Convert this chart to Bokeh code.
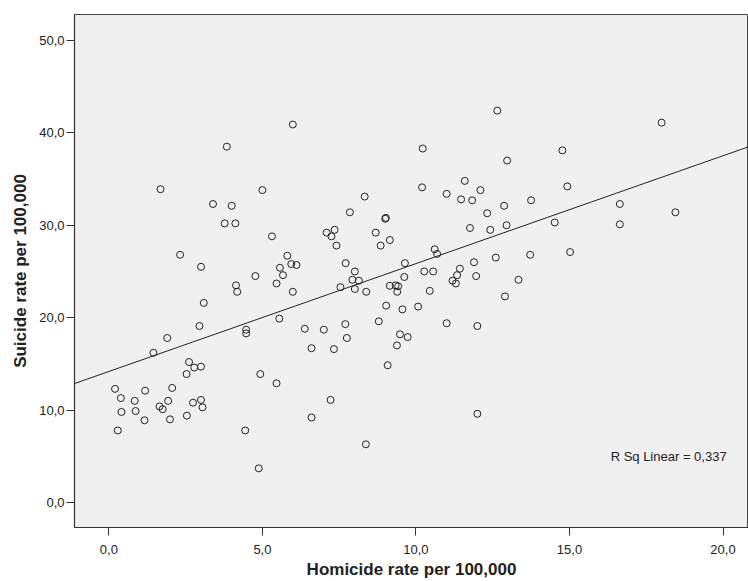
from bokeh.plotting import figure
from bokeh.models import Range1d, FixedTicker, Label
from bokeh.embed import file_html
from bokeh.resources import INLINE

# Data
homicide = [1.68, 3.84, 5.0, 5.99, 3.39, 4.0, 3.77, 4.12, 5.31, 2.32,
            3.0, 5.81, 5.57, 5.94, 6.11, 5.67, 4.77, 5.46, 4.14, 4.18,
            5.99, 3.09, 5.55, 2.95, 4.47, 4.47, 6.38, 1.90, 1.45, 6.6,
            2.61, 2.78, 3.0, 2.53, 0.20, 0.39, 1.18, 2.06, 0.84, 0.41,
            0.87, 1.65, 1.75, 1.93, 1.16, 1.99, 2.54, 2.74, 3.0, 3.05,
            0.29, 4.93, 5.46, 4.44, 4.88, 6.6, 12.65, 10.22, 12.97, 10.2,
            11.59, 12.1, 11.0, 11.47, 11.83, 12.87, 13.75, 12.32, 12.95, 12.42,
            11.76, 8.33, 7.85, 9.0, 9.02, 7.09, 7.35, 7.25, 7.41, 8.69,
            9.15, 8.85, 10.61, 10.69, 7.71, 8.01, 7.93, 8.14, 8.01, 7.54,
            8.38, 9.64, 9.62, 9.15, 9.34, 9.42, 9.39, 10.27, 10.56, 10.45,
            11.43, 11.34, 11.19, 11.3, 11.89, 11.96, 12.6, 13.34, 12.9, 13.72,
            9.03, 9.56, 10.07, 8.79, 11.0, 12.0, 7.0, 7.7, 7.75, 7.33,
            9.48, 9.73, 9.38, 9.08, 7.22, 12.0, 8.37, 18.0, 14.77, 14.93,
            14.52, 16.64, 16.64, 18.45, 15.02]
suicide = [33.9, 38.5, 33.8, 40.9, 32.3, 32.1, 30.2, 30.2, 28.8, 26.8,
           25.5, 26.7, 25.4, 25.8, 25.7, 24.6, 24.5, 23.7, 23.5, 22.8,
           22.8, 21.6, 19.9, 19.1, 18.7, 18.3, 18.8, 17.8, 16.2, 16.7,
           15.2, 14.6, 14.7, 13.9, 12.3, 11.3, 12.1, 12.4, 11.0, 9.8,
           9.9, 10.4, 10.1, 11.0, 8.9, 9.0, 9.4, 10.8, 11.1, 10.3,
           7.8, 13.9, 12.9, 7.8, 3.7, 9.2, 42.4, 38.3, 37.0, 34.1,
           34.8, 33.8, 33.4, 32.8, 32.7, 32.1, 32.7, 31.3, 30.0, 29.5,
           29.7, 33.1, 31.4, 30.7, 30.8, 29.2, 29.5, 28.8, 27.8, 29.2,
           28.4, 27.8, 27.4, 26.9, 25.9, 25.0, 24.1, 24.0, 23.1, 23.3,
           22.8, 25.9, 24.4, 23.45, 23.5, 23.4, 22.8, 25.0, 25.0, 22.9,
           25.3, 24.6, 24.0, 23.7, 26.0, 24.5, 26.5, 24.1, 22.3, 26.8,
           21.3, 20.9, 21.2, 19.6, 19.4, 19.1, 18.7, 19.3, 17.8, 16.6,
           18.2, 17.9, 17.0, 14.85, 11.1, 9.6, 6.3, 41.1, 38.1, 34.2,
           30.3, 32.3, 30.1, 31.4, 27.1]

fit_intercept = 14.18
fit_slope = 1.167
r_sq_text = "R Sq Linear = 0,337"

x_ticks = [0, 5, 10, 15, 20]
x_tick_labels = ["0,0", "5,0", "10,0", "15,0", "20,0"]
y_ticks = [0, 10, 20, 30, 40, 50]
y_tick_labels = ["0,0", "10,0", "20,0", "30,0", "40,0", "50,0"]

x_lo, x_hi = -1.12, 20.83
y_lo, y_hi = -2.70, 52.8

p = figure(width=748, height=581, output_backend="svg", toolbar_location=None,
           x_range=Range1d(x_lo, x_hi), y_range=Range1d(y_lo, y_hi),
           min_border_left=74, min_border_right=0, min_border_top=14,
           min_border_bottom=53)

p.background_fill_color = "#f0f0f0"
p.border_fill_color = "white"
p.outline_line_color = "#444444"
p.outline_line_width = 1
p.grid.visible = False

TXT = "#222222"
for ax in (p.xaxis[0], p.yaxis[0]):
    ax.axis_line_color = "#333333"
    ax.axis_line_width = 1.2
    ax.major_tick_line_color = "#333333"
    ax.major_tick_out = 8
    ax.major_tick_in = 0
    ax.minor_tick_out = 0
    ax.minor_tick_in = 0
    ax.major_label_text_font = "Liberation Sans"
    ax.major_label_text_font_size = "13px"
    ax.major_label_text_color = TXT
    ax.axis_label_text_font = "Liberation Sans"
    ax.axis_label_text_font_style = "bold"
    ax.axis_label_text_font_size = "17px"
    ax.axis_label_text_color = TXT

p.xaxis[0].ticker = FixedTicker(ticks=x_ticks)
p.xaxis[0].major_label_overrides = dict(zip(x_ticks, x_tick_labels))
p.xaxis[0].major_label_standoff = 9
p.xaxis[0].axis_label = "Homicide rate per 100,000"
p.xaxis[0].axis_label_standoff = 3

p.yaxis[0].ticker = FixedTicker(ticks=y_ticks)
p.yaxis[0].major_label_overrides = dict(zip(y_ticks, y_tick_labels))
p.yaxis[0].major_label_standoff = 2
p.yaxis[0].axis_label = "Suicide rate per 100,000"
p.yaxis[0].axis_label_standoff = 6

# regression line
fx = [x_lo, x_hi]
fy = [fit_intercept + fit_slope * v for v in fx]
p.line(fx, fy, line_color="#222222", line_width=1)

p.scatter(homicide, suicide, marker="circle", size=7, fill_color=None,
          line_color="#222222", line_width=1)

p.add_layout(Label(x=16.34, y=5.0, text=r_sq_text, text_font="Liberation Sans",
                   text_font_size="13px", text_color=TXT, text_baseline="middle"))

open("out.html", "w").write(file_html(p, INLINE))
